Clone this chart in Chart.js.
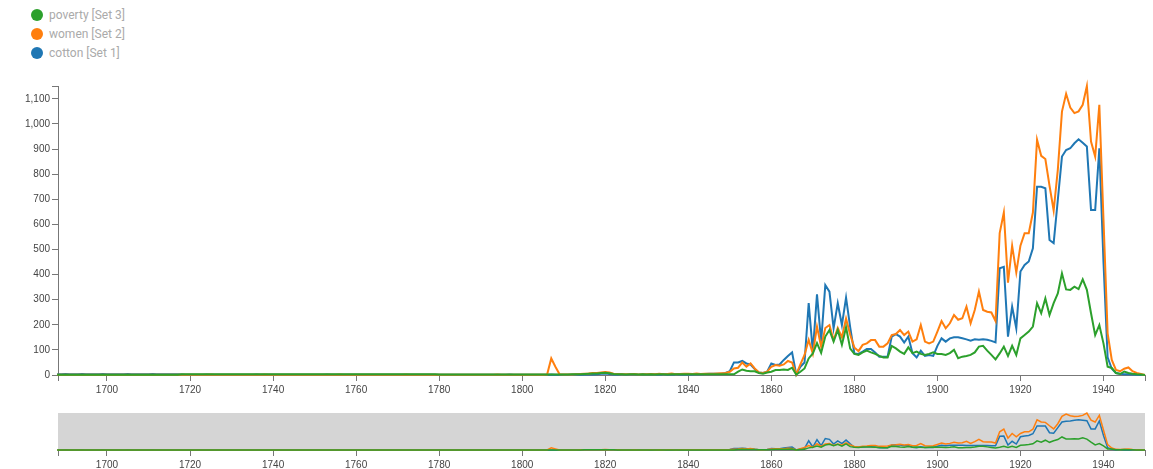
<!DOCTYPE html>
<html>
<head>
<meta charset="utf-8">
<script src="https://cdn.jsdelivr.net/npm/chart.js@4.4.1/dist/chart.umd.min.js"></script>
<style>
    body { margin: 0; width: 1153px; height: 469px; overflow: hidden; background: #fff; }
    #legend { position: absolute; left: 31px; top: 5px; font-family: Roboto, sans-serif; }
    .item { height: 19px; display: flex; align-items: center; color: #aaa; font-size: 12px; }
    .dot { width: 12px; height: 12px; border-radius: 50%; margin-right: 6px; }
    #mainChart { position: absolute; left: 0; top: 0; }
    #overviewChart { position: absolute; left: 0; top: 400px; }
</style>
</head>
<body>
<div id="legend"></div>
<canvas id="mainChart" width="1153" height="400"></canvas>
<canvas id="overviewChart" width="1153" height="69"></canvas>
<script>
// yearly counts, 1688 .. 1950
const firstYear = 1688;
const lastYear = 1950;

const cotton = [
    3, 3, 4, 3, 3, 3, 4, 3, 3, 3, 3, 4,          // 1688-1699
    3, 3, 3, 3, 3, 4, 3, 3, 3, 3,                // 1700s
    3, 4, 3, 3, 3, 3, 3, 3, 2, 1,
    1, 1, 1, 1, 2, 1, 1, 1, 1, 1,
    1, 1, 1, 1, 1, 1, 2, 1, 1, 1,
    1, 1, 1, 1, 1, 1, 1, 1, 1, 1,
    1, 1, 1, 2, 1, 1, 1, 1, 1, 1,
    1, 1, 1, 1, 1, 1, 1, 1, 1, 1,
    1, 1, 1, 1, 1, 1, 1, 1, 1, 1,
    1, 1, 1, 1, 1, 1, 1, 1, 1, 1,
    1, 1, 1, 1, 1, 1, 1, 2, 1, 1,
    1, 1, 1, 1, 1, 1, 1, 2, 1, 1,                // 1800s
    1, 1, 1, 2, 1, 2, 3, 2, 3, 5,
    6, 4, 2, 2, 2, 1, 2, 3, 1, 2,
    2, 1, 2, 3, 2, 3, 2, 2, 3, 2,
    3, 2, 4, 3, 4, 5, 5, 5, 5, 8,
    15, 50, 50, 56, 46, 42, 24, 10, 8, 13,
    46, 40, 42, 60, 76, 90, 2, 33, 50, 286,
    93, 321, 133, 358, 332, 186, 286, 199, 308, 190,
    86, 84, 93, 104, 104, 90, 73, 73, 73, 153,
    163, 153, 129, 153, 87, 70, 97, 76, 80, 76,
    116, 146, 133, 146, 150, 150, 146, 142, 137, 142,  // 1900s
    140, 142, 140, 136, 130, 425, 431, 153, 272, 186,
    412, 438, 452, 505, 750, 750, 744, 538, 525, 697,
    870, 896, 903, 923, 939, 925, 910, 657, 657, 903,
    450, 70, 25, 8, 5, 3, 3, 2, 1, 0,
    0
];

const women = [
    1, 1, 1, 1, 1, 1, 1, 1, 1, 1, 1, 1,
    1, 1, 1, 1, 1, 1, 1, 1, 1, 1,
    1, 1, 1, 1, 1, 1, 1, 1, 1, 1,
    1, 1, 1, 1, 1, 2, 1, 1, 1, 1,
    1, 1, 1, 1, 1, 1, 1, 1, 2, 1,
    1, 1, 1, 1, 1, 1, 1, 1, 1, 1,
    1, 1, 1, 1, 1, 1, 2, 1, 1, 1,
    1, 1, 1, 1, 1, 1, 1, 1, 1, 1,
    1, 1, 2, 1, 1, 1, 1, 1, 1, 1,
    1, 1, 1, 1, 1, 1, 1, 1, 1, 1,
    1, 1, 1, 1, 2, 1, 1, 1, 1, 1,
    1, 1, 1, 1, 1, 1, 2, 66, 33, 3,
    2, 2, 2, 3, 4, 5, 6, 8, 8, 10,
    12, 10, 5, 4, 3, 3, 3, 4, 2, 3,
    3, 4, 3, 5, 3, 4, 6, 3, 4, 5,
    5, 4, 6, 4, 5, 5, 5, 6, 7, 8,
    13, 26, 29, 50, 33, 46, 26, 10, 8, 13,
    33, 40, 37, 42, 56, 50, 2, 42, 80, 140,
    85, 193, 113, 187, 199, 139, 187, 150, 225, 160,
    110, 95, 120, 126, 139, 139, 113, 113, 126, 159,
    163, 179, 159, 173, 133, 142, 199, 133, 126, 133,
    173, 215, 186, 206, 239, 220, 226, 272, 206, 259,
    332, 259, 252, 249, 215, 565, 647, 368, 515, 408,
    515, 565, 565, 647, 937, 873, 860, 754, 655, 817,
    1049, 1120, 1065, 1043, 1050, 1076, 1151, 930, 870, 1076,
    620, 166, 60, 20, 15, 25, 30, 15, 8, 4,
    0
];

const poverty = [
    1, 1, 1, 1, 1, 1, 1, 1, 1, 1, 1, 1,
    1, 1, 1, 1, 1, 1, 1, 1, 1, 1,
    1, 1, 1, 1, 1, 1, 1, 1, 3, 3,
    3, 3, 3, 3, 3, 3, 3, 3, 3, 3,
    3, 3, 3, 3, 3, 3, 3, 3, 3, 3,
    3, 3, 3, 3, 3, 3, 3, 3, 3, 3,
    3, 3, 3, 3, 3, 3, 3, 3, 3, 3,
    3, 3, 3, 3, 3, 3, 3, 3, 3, 3,
    3, 3, 3, 3, 3, 3, 3, 3, 3, 3,
    2, 2, 2, 2, 2, 2, 2, 2, 2, 2,
    2, 2, 2, 2, 2, 2, 2, 2, 2, 2,
    2, 2, 2, 2, 2, 2, 2, 2, 2, 2,
    2, 2, 3, 3, 3, 4, 5, 6, 6, 8,
    9, 7, 4, 3, 3, 2, 3, 3, 2, 3,
    2, 3, 2, 3, 3, 2, 3, 3, 3, 3,
    3, 3, 3, 3, 3, 3, 3, 3, 3, 3,
    3, 3, 13, 22, 17, 15, 15, 8, 5, 10,
    13, 20, 20, 22, 20, 29, 2, 13, 26, 66,
    86, 127, 88, 153, 179, 133, 179, 120, 190, 105,
    84, 80, 90, 97, 90, 84, 76, 70, 70, 116,
    106, 93, 84, 110, 87, 93, 84, 80, 84, 90,
    84, 84, 80, 87, 100, 67, 73, 76, 80, 90,
    113, 116, 97, 80, 62, 86, 113, 76, 116, 80,
    146, 159, 173, 193, 286, 246, 305, 239, 286, 325,
    405, 341, 339, 352, 342, 381, 339, 246, 159, 199,
    126, 33, 28, 8, 4, 14, 8, 5, 3, 2,
    0
];

const seriesNames = ['poverty [Set 3]', 'women [Set 2]', 'cotton [Set 1]'];
const seriesColors = ['#2ca02c', '#ff7f0e', '#1f77b4'];

const xTicks = [1700, 1720, 1740, 1760, 1780, 1800, 1820, 1840, 1860, 1880, 1900, 1920, 1940];
const yTicks = [0, 100, 200, 300, 400, 500, 600, 700, 800, 900, 1000, 1100];

const xMin = 1688.2;
const xMax = 1950;
const yMax = 1151;

const years = [];
for (let y = firstYear; y <= lastYear; y++) years.push(y);

const tickFont = { family: '"Liberation Sans", Arial, sans-serif', size: 10 };
const axisColor = '#777';

function toPoints(values) {
    return years.map((yr, i) => ({ x: yr, y: values[i] }));
}

function buildDatasets(width) {
    return [poverty, women, cotton].map((values, i) => ({
        label: seriesNames[i],
        data: toPoints(values),
        borderColor: seriesColors[i],
        borderWidth: width,
        pointRadius: 0,
        tension: 0,
        clip: false
    }));
}

function xScale(height) {
    return {
        type: 'linear',
        min: xMin,
        max: xMax,
        afterBuildTicks: scale => {
            scale.ticks = [xMin, ...xTicks, xMax].map(v => ({ value: v }));
        },
        afterFit: scale => { scale.height = height; },
        grid: { drawOnChartArea: false, drawTicks: true, tickLength: 6, color: axisColor },
        border: { color: axisColor },
        ticks: {
            autoSkip: false,
            maxRotation: 0,
            padding: 3,
            color: '#444',
            font: tickFont,
            callback: v => xTicks.includes(v) ? String(v) : ''
        }
    };
}

// legend
const legend = document.getElementById('legend');
seriesNames.forEach((name, i) => {
    const item = document.createElement('div');
    item.className = 'item';
    item.innerHTML = `<span class="dot" style="background:${seriesColors[i]}"></span><span>${name}</span>`;
    legend.appendChild(item);
});

new Chart(document.getElementById('mainChart'), {
    type: 'line',
    data: { datasets: buildDatasets(2) },
    options: {
        responsive: false,
        animation: false,
        layout: { padding: { top: 86, right: 8, left: 0, bottom: 0 } },
        scales: {
            x: xScale(25),
            y: {
                min: 0,
                max: yMax,
                afterBuildTicks: scale => {
                    scale.ticks = [...yTicks, yMax].map(v => ({ value: v }));
                },
                afterFit: scale => { scale.width = 58; },
                grid: { drawOnChartArea: false, drawTicks: true, tickLength: 6, color: axisColor },
                border: { color: axisColor },
                ticks: {
                    padding: 2,
                    color: '#444',
                    font: tickFont,
                    callback: v => v === yMax ? '' : v.toLocaleString('en-US')
                }
            }
        },
        plugins: {
            legend: { display: false },
            tooltip: { enabled: false }
        }
    }
});

const brushBackground = {
    id: 'brushBackground',
    beforeDraw(chart) {
        const { ctx, chartArea } = chart;
        ctx.save();
        ctx.fillStyle = '#d5d5d5';
        ctx.fillRect(chartArea.left, chartArea.top, chartArea.right - chartArea.left, chartArea.bottom - chartArea.top);
        ctx.restore();
    }
};

new Chart(document.getElementById('overviewChart'), {
    type: 'line',
    data: { datasets: buildDatasets(1.5) },
    options: {
        responsive: false,
        animation: false,
        layout: { padding: { top: 13, right: 8, left: 58, bottom: 0 } },
        scales: {
            x: xScale(19),
            y: { display: false, min: 0, max: yMax }
        },
        plugins: {
            legend: { display: false },
            tooltip: { enabled: false }
        }
    },
    plugins: [brushBackground]
});
</script>
</body>
</html>
